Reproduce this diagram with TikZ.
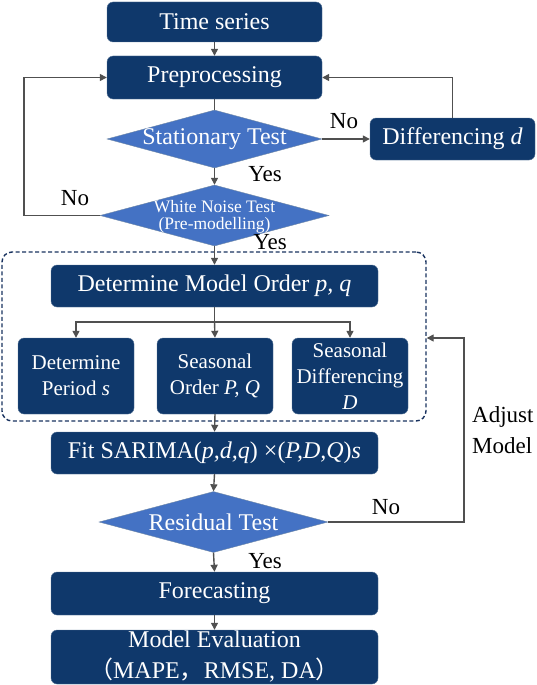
\documentclass[tikz,border=0pt]{standalone}
\usepackage{fontspec}
\setmainfont{Liberation Serif}
\newfontfamily\cjk{Noto Sans CJK SC}
\usetikzlibrary{shapes.geometric,arrows.meta}
\definecolor{navy}{RGB}{15,56,107}
\definecolor{diablue}{RGB}{68,114,196}
\definecolor{linegray}{RGB}{80,80,80}
\definecolor{dashnavy}{RGB}{25,50,95}
\begin{document}
\begin{tikzpicture}[x=1pt,y=-1pt,
  box/.style={draw=navy!70,fill=navy,rounded corners=6pt,text=white,align=center,inner sep=0pt,font=\fontsize{24}{28}\selectfont},
  smallbox/.style={box,font=\fontsize{21}{26}\selectfont,minimum width=116pt,minimum height=76pt},
  dia/.style={diamond,draw=navy!60,fill=diablue,inner sep=0pt},
  diatext/.style={text=white,align=center,inner sep=0pt},
  lbl/.style={text=black,inner sep=0pt,font=\fontsize{23}{27}\selectfont},
  conn/.style={draw=linegray,line width=1.4pt},
  arr/.style={conn,-{Triangle[length=7pt,width=7pt]}}]
\useasboundingbox (0,0) rectangle (537,685);

% dashed group box
\node[draw=dashnavy,dash pattern=on 4pt off 2.5pt,line width=1.4pt,rounded corners=10pt,minimum width=424pt,minimum height=169pt,inner sep=0pt] (grp) at (214,336.5) {};

\node[box,minimum width=215pt,minimum height=40pt] (ts) at (214.5,22) {Time series};
\node[box,minimum width=215pt,minimum height=43pt] (pre) at (214.5,77.5) {Preprocessing};
\node[dia,minimum width=215pt,minimum height=58pt] (st) at (214.5,139) {};
\node[diatext,font=\fontsize{24}{28}\selectfont] at (st.center) {Stationary Test};
\node[box,minimum width=165pt,minimum height=42pt] (diff) at (452.5,139) {Differencing \textit{d}};
\node[dia,minimum width=229pt,minimum height=61pt] (wn) at (214.5,215.5) {};
\node[diatext,font=\fontsize{17.5}{17}\selectfont] at (214.5,216.5) {White Noise Test\\(Pre-modelling)};

\node[box,minimum width=327pt,minimum height=42pt] (dmo) at (214.5,286) {Determine Model Order \textit{p, q}};
\node[smallbox] (b1) at (76,376) {Determine\\Period \textit{s}};
\node[smallbox] (b2) at (215,376) {Seasonal\\Order \textit{P, Q}};
\node[smallbox] (b3) at (350,376) {Seasonal\\Differencing\\\textit{D}};

\node[box,minimum width=327pt,minimum height=42pt] (fit) at (214.5,453) {Fit SARIMA(\textit{p,d,q}) ×(\textit{P,D,Q})\textit{s}};
\node[dia,minimum width=229pt,minimum height=61pt] (res) at (213.5,522) {};
\node[diatext,font=\fontsize{24}{28}\selectfont] at (res.center) {Residual Test};
\node[box,minimum width=327pt,minimum height=43pt] (fc) at (214.5,593.5) {Forecasting};
\node[box,minimum width=327pt,minimum height=54pt,font=\fontsize{24}{31}\selectfont] (me) at (214.5,657) {Model Evaluation\\{\cjk （}MAPE{\cjk ，}RMSE, DA{\cjk ）}};

% connectors
\draw[arr] (ts) -- (pre);
\draw[conn] (pre) -- (st.north);
\draw[arr] (st.south) -- (wn.north);
\draw[arr] (st.east) -- (diff.west);
\draw[arr] (diff.north) |- (pre.east);
\draw[arr] (wn.west) -| (24,150) |- (pre.west);
\draw[arr] (wn.south) -- (dmo.north);
\coordinate (split) at (214.5,322);
\draw[conn] (dmo.south) -- (split);
\draw[arr] (split) -| (b1.north);
\draw[arr] (split) -- (b2.north);
\draw[arr] (split) -| (b3.north);
\draw[arr] (b2.south) -- (fit.north);
\draw[arr] (fit.south) -- (res.north);
\draw[arr] (res.south) -- (fc.north);
\draw[arr] (fc.south) -- (me.north);
\coordinate (adj) at (464,338);
\draw[arr] (res.east) -| (adj) -- (grp.east |- adj);

% labels
\node[lbl] at (344,121) {No};
\node[lbl] at (265,174) {Yes};
\node[lbl] at (75,198) {No};
\node[lbl] at (270,242) {Yes};
\node[lbl] at (386,507) {No};
\node[lbl] at (265,561) {Yes};
\node[lbl,align=left,anchor=west,font=\fontsize{23}{31}\selectfont] at (472,430) {Adjust\\Model};
\end{tikzpicture}
\end{document}
